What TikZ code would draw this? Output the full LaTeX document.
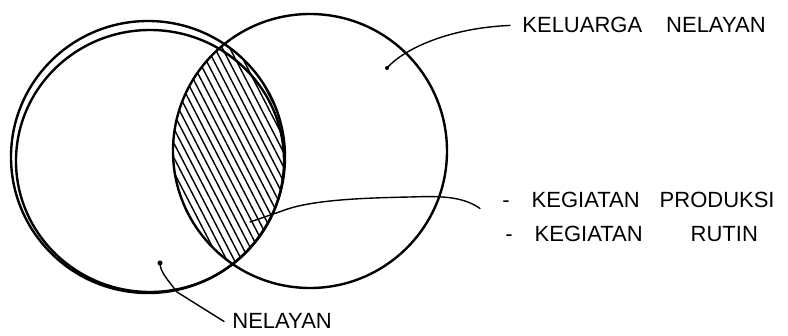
\documentclass[tikz,border=0pt]{standalone}
\usepackage{fontspec}
\newfontfamily\handfont{Liberation Sans}
\begin{document}
\begin{tikzpicture}[x=0.5pt, y=-0.5pt,
    ring/.style={line width=1.2pt, line cap=round},
    hatch/.style={line width=0.7pt},
    lead/.style={line width=0.7pt, line cap=round},
    hand/.style={font=\handfont\fontsize{11}{13}\selectfont, anchor=base west, inner sep=0pt}
]
\useasboundingbox (0,0) rectangle (788,336);
\coordinate (cl) at (148,157);
\coordinate (cr) at (310,151);

\begin{scope}
  \clip (cl) ellipse [x radius=137, y radius=136];
  \clip (cr) circle [radius=137];
  \foreach \x in {100,107.5,...,380}
    \draw[hatch] (\x-75,0) -- (\x+85,310);
\end{scope}
\draw[ring] (cl) ellipse [x radius=137, y radius=136];
\draw[ring] (150,161) ellipse [x radius=134, y radius=131];
\draw[ring] (cr) circle [radius=137];

\node[hand] (kel)  at (522,33)  {KELUARGA\hspace{12pt}NELAYAN};
\node[hand] (prod) at (502,208) {-\quad KEGIATAN\hspace{10pt}PRODUKSI};
\node[hand] (rut)  at (505,242) {-\quad KEGIATAN\hspace{24pt}RUTIN};
\node[hand] (nel)  at (232,329) {NELAYAN};

\coordinate (pkel)  at (387,68);
\coordinate (pprod) at (250,222);
\coordinate (pnel)  at (160,263);

\draw[lead] ([xshift=-6pt]kel.west) .. controls (450,28) and (405,48) .. (pkel);
\fill (pkel) circle [radius=2];
\draw[lead] ([xshift=-11pt,yshift=-4pt]prod.west) .. controls (462,196) and (440,196) .. (410,197)
  .. controls (360,198) and (310,200) .. (282,211) -- (pprod);
\draw[lead] ([xshift=-4pt]nel.west) -- (177,292) .. controls (168,280) and (160,272) .. (pnel);
\fill (pnel) circle [radius=2.5];
\end{tikzpicture}
\end{document}
